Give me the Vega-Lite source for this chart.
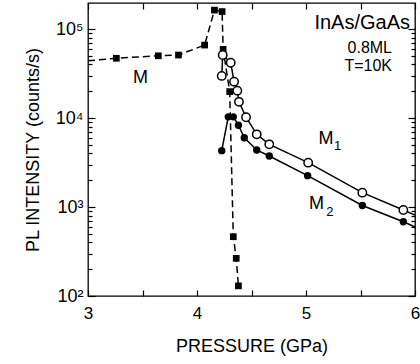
{
  "$schema": "https://vega.github.io/schema/vega-lite/v6.json",
  "width": 327,
  "height": 293,
  "autosize": {"type": "none"},
  "padding": {"left": 88, "top": 3, "right": 5, "bottom": 68},
  "background": "white",
  "config": {
    "font": "Liberation Sans",
    "view": {"stroke": "black", "strokeWidth": 1.3},
    "axis": {"grid": false, "domain": false, "tickColor": "black", "tickWidth": 1.2, "labelColor": "black", "titleColor": "black", "labelFont": "Liberation Sans", "titleFont": "Liberation Sans", "titleFontWeight": "normal"}
  },
  "datasets": {
    "M": [
      {"p": 3.0, "i": 44000, "marker": false},
      {"p": 3.26, "i": 46900, "marker": true},
      {"p": 3.645, "i": 50000, "marker": true},
      {"p": 3.83, "i": 51000, "marker": true},
      {"p": 4.07, "i": 66000, "marker": true},
      {"p": 4.16, "i": 163000, "marker": true},
      {"p": 4.23, "i": 157000, "marker": true},
      {"p": 4.24, "i": 59000, "marker": true},
      {"p": 4.30, "i": 19800, "marker": true},
      {"p": 4.333, "i": 464, "marker": true},
      {"p": 4.36, "i": 265, "marker": true},
      {"p": 4.38, "i": 130, "marker": true}
    ],
    "M1": [
      {"p": 4.227, "i": 29700, "marker": true},
      {"p": 4.236, "i": 51000, "marker": true},
      {"p": 4.309, "i": 41800, "marker": true},
      {"p": 4.34, "i": 25600, "marker": true},
      {"p": 4.37, "i": 20300, "marker": true},
      {"p": 4.385, "i": 15200, "marker": true},
      {"p": 4.45, "i": 10200, "marker": true},
      {"p": 4.548, "i": 6550, "marker": true},
      {"p": 4.663, "i": 5060, "marker": true},
      {"p": 5.02, "i": 3150, "marker": true},
      {"p": 5.517, "i": 1450, "marker": true},
      {"p": 5.893, "i": 925, "marker": true},
      {"p": 6.0, "i": 810, "marker": false}
    ],
    "M2": [
      {"p": 4.227, "i": 4300, "marker": true},
      {"p": 4.287, "i": 10300, "marker": true},
      {"p": 4.333, "i": 10300, "marker": true},
      {"p": 4.38, "i": 8300, "marker": true},
      {"p": 4.434, "i": 6000, "marker": true},
      {"p": 4.548, "i": 4370, "marker": true},
      {"p": 4.663, "i": 3740, "marker": true},
      {"p": 5.015, "i": 2250, "marker": true},
      {"p": 5.517, "i": 1040, "marker": true},
      {"p": 5.893, "i": 684, "marker": true},
      {"p": 6.0, "i": 596, "marker": false}
    ],
    "heading": [{"t": "InAs/GaAs", "p": 5.954, "i": 118000}],
    "conditions": [
      {"t": "0.8ML", "p": 5.789, "i": 61900},
      {"t": "T=10K", "p": 5.789, "i": 38400}
    ],
    "names": [
      {"t": "M", "p": 3.482, "i": 28500},
      {"t": "M", "p": 5.183, "i": 5810},
      {"t": "M", "p": 5.096, "i": 1081}
    ],
    "subscripts": [
      {"t": "1", "p": 5.289, "i": 4840},
      {"t": "2", "p": 5.22, "i": 879}
    ]
  },
  "resolve": {"axis": {"x": "independent", "y": "independent"}},
  "layer": [
    {
      "data": {"name": "M"},
      "mark": {"type": "line", "color": "black", "strokeWidth": 1.5, "strokeDash": [7, 4]},
      "encoding": {
        "x": {"field": "p", "type": "quantitative", "scale": {"domain": [3, 6], "nice": false, "zero": false},
              "axis": {"orient": "bottom", "values": [3, 4, 5, 6], "ticks": false, "tickSize": 0, "labelPadding": 9, "labelFontSize": 17, "labelFlush": false, "title": "PRESSURE (GPa)", "titleFontSize": 18, "titlePadding": 16}},
        "y": {"field": "i", "type": "quantitative", "scale": {"type": "log", "domain": [100, 196000], "nice": false},
              "axis": {"orient": "left", "values": [100, 1000, 10000, 100000], "ticks": false, "tickSize": 0, "labelPadding": 5, "labelFontSize": 18, "labelFlush": false,
                       "labelExpr": "datum.value == 100 ? '10²' : datum.value == 1000 ? '10³' : datum.value == 10000 ? '10⁴' : '10⁵'",
                       "title": "PL INTENSITY (counts/s)", "titleFontSize": 18, "titlePadding": 13}}
      }
    },
    {
      "data": {"name": "M1"},
      "mark": {"type": "line", "color": "black", "strokeWidth": 1.5},
      "encoding": {
        "x": {"field": "p", "type": "quantitative", "scale": {"domain": [3, 6], "nice": false, "zero": false},
              "axis": {"orient": "bottom", "values": [3, 3.5, 4, 4.5, 5, 5.5, 6], "labels": false, "tickSize": -6, "title": null}},
        "y": {"field": "i", "type": "quantitative", "scale": {"type": "log", "domain": [100, 196000], "nice": false},
              "axis": {"orient": "left", "values": [100, 1000, 10000, 100000], "labels": false, "tickSize": -7, "title": null}}
      }
    },
    {
      "data": {"name": "M2"},
      "mark": {"type": "line", "color": "black", "strokeWidth": 1.5},
      "encoding": {
        "x": {"field": "p", "type": "quantitative", "scale": {"domain": [3, 6], "nice": false, "zero": false},
              "axis": {"orient": "top", "values": [3, 3.5, 4, 4.5, 5, 5.5, 6], "labels": false, "tickSize": -6, "title": null}},
        "y": {"field": "i", "type": "quantitative", "scale": {"type": "log", "domain": [100, 196000], "nice": false},
              "axis": {"orient": "left", "values": [200, 300, 400, 500, 600, 700, 800, 900, 2000, 3000, 4000, 5000, 6000, 7000, 8000, 9000, 20000, 30000, 40000, 50000, 60000, 70000, 80000, 90000], "labels": false, "tickSize": -4, "title": null}}
      }
    },
    {
      "data": {"name": "M"},
      "transform": [{"filter": "datum.marker"}],
      "mark": {"type": "point", "shape": "square", "filled": true, "color": "black", "size": 45, "opacity": 1},
      "encoding": {
        "x": {"field": "p", "type": "quantitative", "scale": {"domain": [3, 6], "nice": false, "zero": false}, "axis": null},
        "y": {"field": "i", "type": "quantitative", "scale": {"type": "log", "domain": [100, 196000], "nice": false},
              "axis": {"orient": "right", "values": [100, 1000, 10000, 100000], "labels": false, "tickSize": -7, "title": null}}
      }
    },
    {
      "data": {"name": "M1"},
      "transform": [{"filter": "datum.marker"}],
      "mark": {"type": "point", "shape": "circle", "filled": true, "fill": "white", "stroke": "black", "strokeWidth": 1.5, "size": 70, "opacity": 1},
      "encoding": {
        "x": {"field": "p", "type": "quantitative", "scale": {"domain": [3, 6], "nice": false, "zero": false}, "axis": null},
        "y": {"field": "i", "type": "quantitative", "scale": {"type": "log", "domain": [100, 196000], "nice": false},
              "axis": {"orient": "right", "values": [200, 300, 400, 500, 600, 700, 800, 900, 2000, 3000, 4000, 5000, 6000, 7000, 8000, 9000, 20000, 30000, 40000, 50000, 60000, 70000, 80000, 90000], "labels": false, "tickSize": -4, "title": null}}
      }
    },
    {
      "data": {"name": "M2"},
      "transform": [{"filter": "datum.marker"}],
      "mark": {"type": "point", "shape": "circle", "filled": true, "color": "black", "size": 55, "opacity": 1},
      "encoding": {
        "x": {"field": "p", "type": "quantitative", "scale": {"domain": [3, 6], "nice": false, "zero": false}, "axis": null},
        "y": {"field": "i", "type": "quantitative", "scale": {"type": "log", "domain": [100, 196000], "nice": false}, "axis": null}
      }
    },
    {
      "data": {"name": "heading"},
      "mark": {"type": "text", "font": "Liberation Sans", "fontSize": 20, "align": "right", "baseline": "middle", "color": "black"},
      "encoding": {
        "x": {"field": "p", "type": "quantitative", "axis": null},
        "y": {"field": "i", "type": "quantitative", "axis": null},
        "text": {"field": "t"}
      }
    },
    {
      "data": {"name": "conditions"},
      "mark": {"type": "text", "font": "Liberation Sans", "fontSize": 16, "align": "right", "baseline": "middle", "color": "black"},
      "encoding": {
        "x": {"field": "p", "type": "quantitative", "axis": null},
        "y": {"field": "i", "type": "quantitative", "axis": null},
        "text": {"field": "t"}
      }
    },
    {
      "data": {"name": "names"},
      "mark": {"type": "text", "font": "Liberation Sans", "fontSize": 18, "align": "center", "baseline": "middle", "color": "black"},
      "encoding": {
        "x": {"field": "p", "type": "quantitative", "axis": null},
        "y": {"field": "i", "type": "quantitative", "axis": null},
        "text": {"field": "t"}
      }
    },
    {
      "data": {"name": "subscripts"},
      "mark": {"type": "text", "font": "Liberation Sans", "fontSize": 13, "align": "center", "baseline": "middle", "color": "black"},
      "encoding": {
        "x": {"field": "p", "type": "quantitative", "axis": null},
        "y": {"field": "i", "type": "quantitative", "axis": null},
        "text": {"field": "t"}
      }
    }
  ]
}
